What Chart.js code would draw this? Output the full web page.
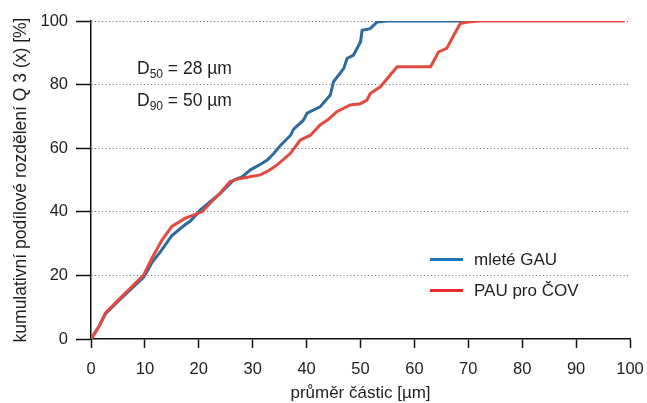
<!DOCTYPE html>
<html>
<head>
<meta charset="utf-8">
<script src="https://cdn.jsdelivr.net/npm/chart.js@4"></script>
<style>
  html, body { margin: 0; padding: 0; background: #fff; }
  #wrap { width: 647px; height: 403px; }
</style>
</head>
<body>
<div id="wrap"><canvas id="chart" width="647" height="403"></canvas></div>
<script>
const FONT = "'Liberation Sans', Arial, sans-serif";
const TEXT = "#1e1e1e";

// ── Data ──────────────────────────────────────────────────────
const seriesLabels = ["mleté GAU", "PAU pro ČOV"];

const gauX = [0, 1.5, 2.7, 5.1, 7.6, 9.8, 11.3, 12.9, 15, 17.5, 18.4, 20.3, 22, 24, 26.5, 28, 29.6, 31, 32.7, 34, 35.1, 37, 37.6, 39.4, 40.1, 42.5, 44.4, 45, 46.9, 47.5, 48.7, 50, 50.3, 51.8, 53.1, 55, 70];
const gauY = [0, 4, 8, 12, 16, 19.5, 24, 27.5, 32.5, 36, 37, 40.6, 43, 45.8, 50, 51, 53.2, 54.5, 56.3, 58.5, 60.8, 64, 66, 68.8, 71, 73, 76.7, 80.9, 85.1, 88.2, 89.3, 93.4, 97.1, 97.6, 99.7, 100, 100];

const pauX = [0, 1.5, 2.7, 5.1, 7.6, 9.8, 11.3, 13.2, 15, 17.5, 20.6, 22.1, 24, 25.8, 27.7, 29.5, 31.4, 33, 34.5, 37, 38.8, 40.7, 42.5, 44, 45.6, 48.1, 50, 51.2, 51.8, 53.7, 55.2, 56.8, 60, 63, 64.5, 66, 67.3, 68.5, 70.4, 72, 99];
const pauY = [0, 4, 8.2, 12.3, 16.5, 20.2, 25.4, 31.2, 35.4, 38, 40, 42.7, 46, 49.5, 50.5, 51, 51.6, 53, 54.7, 58.4, 62.5, 64.1, 67.3, 69, 71.5, 73.6, 74, 75.1, 77.2, 79.3, 82.4, 85.6, 85.6, 85.6, 90.3, 91.4, 95.5, 99.2, 99.8, 100, 100];

const xTicks = [0, 10, 20, 30, 40, 50, 60, 70, 80, 90, 100];
const yTicks = [0, 20, 40, 60, 80, 100];

const toPoints = (xs, ys) => xs.map((x, i) => ({ x, y: ys[i] }));

// legend + D values drawn on top of the chart
const overlayPlugin = {
  id: "overlay",
  afterDraw(chart) {
    const { ctx, chartArea } = chart;
    ctx.save();
    ctx.fillStyle = TEXT;
    ctx.textBaseline = "alphabetic";
    ctx.textAlign = "left";

    // D50 / D90 text
    const drawD = (sub, rest, x, y) => {
      ctx.font = "17.5px " + FONT;
      ctx.fillText("D", x, y);
      let w = ctx.measureText("D").width;
      ctx.font = "12px " + FONT;
      ctx.fillText(sub, x + w, y + 4);
      w += ctx.measureText(sub).width;
      ctx.font = "17.5px " + FONT;
      ctx.fillText(rest, x + w, y);
    };
    drawD("50", " = 28 µm", chartArea.left + 46, 74);
    drawD("90", " = 50 µm", chartArea.left + 46, 106);

    // legend
    const colors = ["#1e74b9", "#ec2b30"];
    const rows = [259.5, 290.5];
    ctx.textBaseline = "middle";
    seriesLabels.forEach((label, i) => {
      ctx.strokeStyle = colors[i];
      ctx.lineWidth = 3;
      ctx.beginPath();
      ctx.moveTo(430, rows[i]);
      ctx.lineTo(463, rows[i]);
      ctx.stroke();
      ctx.font = "17px " + FONT;
      ctx.fillText(label, 474, rows[i] + 1);
    });
    ctx.restore();
  },
};

new Chart(document.getElementById("chart"), {
  type: "line",
  plugins: [overlayPlugin],
  data: {
    datasets: [
      {
        label: seriesLabels[0],
        data: toPoints(gauX, gauY),
        borderColor: "#2f6a9f",
        borderWidth: 3,
        pointRadius: 0,
        tension: 0,
        fill: false,
        order: 1,
      },
      {
        label: seriesLabels[1],
        data: toPoints(pauX, pauY),
        borderColor: "#e24a40",
        borderWidth: 3,
        pointRadius: 0,
        tension: 0,
        fill: false,
        order: 0,
      },
    ],
  },
  options: {
    responsive: false,
    animation: false,
    devicePixelRatio: 1,
    layout: { padding: { left: 0, right: 17, top: 21, bottom: 0 } },
    plugins: { legend: { display: false }, tooltip: { enabled: false } },
    scales: {
      x: {
        type: "linear",
        min: 0,
        max: 100,
        afterFit: (s) => { s.height = 64; s.paddingLeft = 0; s.paddingRight = 0; },
        afterBuildTicks: (s) => { s.ticks = xTicks.map((v) => ({ value: v })); },
        ticks: { color: TEXT, padding: 12, maxRotation: 0, font: { family: FONT, size: 16.5 } },
        grid: { drawOnChartArea: false, drawTicks: true, tickLength: 9, tickColor: "#111", tickWidth: 1.5 },
        border: { display: true, color: "#111", width: 1.5 },
        title: {
          display: true,
          text: "průměr částic [µm]",
          color: TEXT,
          font: { family: FONT, size: 17, lineHeight: 1 },
          padding: { top: 0, bottom: 1 },
        },
      },
      y: {
        min: 0,
        max: 100,
        afterFit: (s) => { s.width = 91; s.paddingTop = 0; s.paddingBottom = 0; },
        afterBuildTicks: (s) => { s.ticks = yTicks.map((v) => ({ value: v })); },
        ticks: { color: TEXT, padding: 8, font: { family: FONT, size: 16.5 } },
        grid: {
          color: (c) => (c.tick && c.tick.value === 0 ? "rgba(0,0,0,0)" : "#666"),
          lineWidth: 1,
          tickLength: 15,
          tickColor: "#111",
          tickWidth: 1.5,
        },
        border: { display: true, color: "#111", width: 1.5, dash: [1, 2.5] },
        title: {
          display: true,
          text: "kumulativní podílové rozdělení Q 3 (x) [%]",
          color: TEXT,
          font: { family: FONT, size: 17.5, lineHeight: 1 },
          padding: { top: 12, bottom: 0 },
        },
      },
    },
  },
});
</script>
</body>
</html>
